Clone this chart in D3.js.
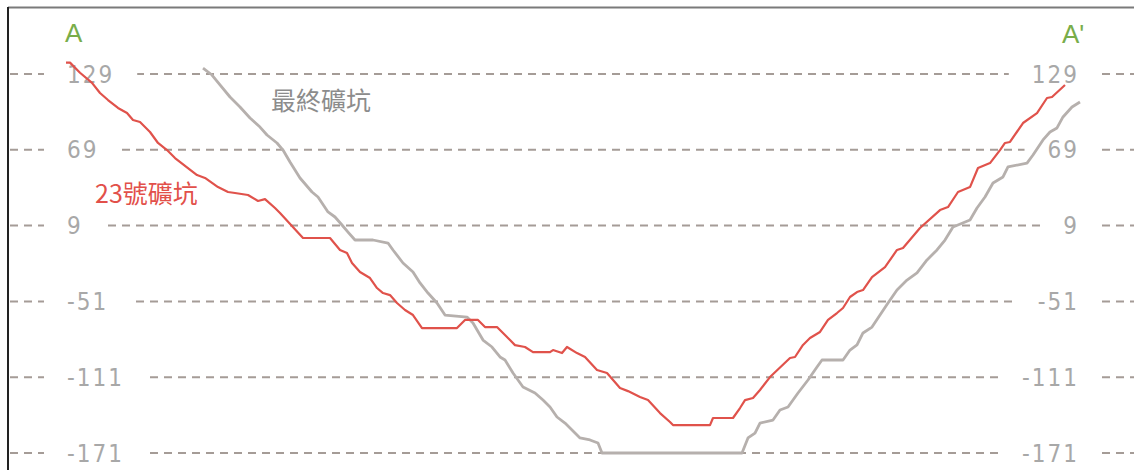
<!DOCTYPE html>
<html><head><meta charset="utf-8">
<script src="https://cdn.jsdelivr.net/npm/d3@7"></script>
<style>html,body{margin:0;padding:0;background:#fff;}svg{display:block;}</style>
</head><body>
<svg id="chart" width="1134" height="470"></svg>
<script>
// Elevation ticks
const tickValues = [129, 69, 9, -51, -111, -171];
// Distance along section A–A' (arbitrary units)
const redDist = [0,2,7,13,17,21,26,30.5,33.5,37,42,46,50.5,54.5,65.5,69.5,76,81,84.5,91,96,99.5,104.5,107,118.5,132,137,140.5,143,147,152,155.5,158.5,162,165.5,169.5,173.5,178,195.5,199.5,206,209.5,215.5,222,224.5,229.5,233.5,242,243.5,248,250.5,255.5,259.5,265.5,270.5,277,281,287,291,297,302,303.5,322,323.5,333.5,337,339.5,343.5,347,352,362,364.5,368.5,372,377,381,385.5,388.5,392,395.5,398.5,403,409.5,415.5,418.5,427,437,441,446,452,456,462,467,469.5,472,478.5,485.5,490.5,493,499.5];
const redElev = [138,138,130,122,114,108.4,102.1,98.1,92.6,91,83.1,74.4,68.8,62.5,49,46.7,39.5,35.6,34.8,33.2,28.5,30,22.9,19,-0.8,-0.8,-10.3,-12.7,-20.6,-27.7,-32.5,-40.4,-44.4,-46,-52.3,-57.8,-61.8,-72.1,-72.1,-65.7,-65.7,-71.3,-71.3,-81.6,-85.6,-87.1,-91.1,-91.1,-89.5,-91.9,-87.1,-91.9,-95,-105.3,-107.7,-119.6,-122,-126.7,-129.1,-139.4,-146.5,-148.9,-148.9,-143.3,-143.3,-135.4,-129.1,-127.5,-121.1,-110.9,-95.8,-95,-85.5,-80,-75.2,-65.7,-60.2,-56.2,-47.5,-43.6,-42,-31.7,-23.8,-10.3,-8.7,7.1,21.3,23.7,35.6,39.5,54.6,58.5,68.8,74.4,75.2,90.2,98.1,110,110.8,120.3];
const grayDist = [68.5,73,77,82,87,92,97,100.5,105.5,108.5,112,117,123,126,131,134.5,138,141,144.5,153.5,161,163.5,168.5,173.5,177,181,185.5,189.5,200.5,203.5,208.5,213,217,219.5,223.5,228.5,234.5,238.5,242,245.5,249.5,253,257,262,266,268,338,341,344.5,347,353.5,357,361,366,371,375.5,378,388.5,392,395.5,398.5,403,407,411,415.5,420.5,425.5,430.5,435.5,439.5,443.5,452,455.5,459.5,463.5,468.5,471,480.5,483.5,488.5,492,495.5,498.5,503,507];
const grayElev = [133.7,128.2,120.3,110.8,102.9,94.2,87,80.7,74.4,68.8,59.3,46.7,35.6,31.6,19.8,15.8,9.5,3.9,-2.4,-2.4,-4.8,-10.3,-20.6,-27.7,-36.4,-44.4,-52.3,-61.8,-63.4,-68.1,-81.6,-87.1,-95,-97.4,-107.7,-118.8,-123.5,-129.1,-134.6,-142.5,-147.3,-152.8,-159.1,-160.7,-163.1,-171,-171,-159.1,-155.2,-147.3,-144.9,-137,-134.6,-123.5,-113.2,-102.9,-97.4,-97.4,-89.5,-85.5,-76,-71.3,-61.8,-52.3,-42,-34.1,-28.5,-18.2,-10.3,-2.4,7.9,13.4,22.9,31.6,42.7,47.5,55.4,58.5,64.9,76.8,83.1,86.3,95,102.9,106.8];
const seriesNames = ["23號礦坑", "最終礦坑"];
const endLabels = ["A", "A'"];

const svg = d3.select("#chart");
const W = 1134, H = 470;
const x = d3.scaleLinear().domain([0, 500]).range([66, 1066]);
const y = d3.scaleLinear().domain([-171, 129]).range([453, 74]);

// frame
svg.append("line").attr("x1", 8).attr("x2", W).attr("y1", 7.5).attr("y2", 7.5)
  .attr("stroke", "#7a7a7a").attr("stroke-width", 2);
svg.append("line").attr("x1", 8).attr("x2", 8).attr("y1", 7).attr("y2", H)
  .attr("stroke", "#222").attr("stroke-width", 2);

// grid lines
const grid = svg.append("g");
grid.selectAll("line").data(tickValues).join("line")
  .attr("x1", 10).attr("x2", W)
  .attr("y1", d => y(d)).attr("y2", d => y(d))
  .attr("stroke", "#a59c97").attr("stroke-width", 2)
  .attr("stroke-dasharray", "8,6");

// tick labels with white masks
const labelFont = "'DejaVu Sans Condensed', 'DejaVu Sans', sans-serif";
function addLabels(anchor, xpos) {
  const g = svg.append("g");
  tickValues.forEach(v => {
    const t = g.append("text").attr("x", xpos).attr("y", y(v)).attr("dy", "0.36em")
      .attr("text-anchor", anchor).attr("font-family", labelFont)
      .attr("font-size", 24).attr("letter-spacing", 2).attr("fill", "#a8a8a8").text(v);
    const b = t.node().getBBox();
    g.insert("rect", "text").attr("x", b.x - 23).attr("y", y(v) - 6)
      .attr("width", b.width + 46).attr("height", 12).attr("fill", "#fff");
  });
}
addLabels("start", 67);
addLabels("end", 1079);

// lines
const line = d3.line().x(d => x(d[0])).y(d => y(d[1]));
svg.append("path").datum(d3.zip(grayDist, grayElev))
  .attr("d", line).attr("fill", "none").attr("stroke", "#b6b0ad")
  .attr("stroke-width", 2.8).attr("stroke-linejoin", "round");
svg.append("path").datum(d3.zip(redDist, redElev))
  .attr("d", line).attr("fill", "none").attr("stroke", "#e0524b")
  .attr("stroke-width", 2.2).attr("stroke-linejoin", "round");

// series labels
const cjk = "'Noto Sans CJK TC', 'Noto Sans CJK SC', sans-serif";
svg.append("text").attr("x", 95).attr("y", 203).attr("font-family", cjk)
  .attr("font-size", 25).attr("fill", "#e2504a").text(seriesNames[0]);
svg.append("text").attr("x", 271).attr("y", 110).attr("font-family", cjk)
  .attr("font-size", 25).attr("fill", "#8c8c8c").text(seriesNames[1]);

// A / A'
const latin = "'Liberation Sans', Arial, sans-serif";
svg.append("text").attr("x", 65).attr("y", 42).attr("font-family", latin)
  .attr("font-size", 26).attr("fill", "#79ad4a").text(endLabels[0]);
svg.append("text").attr("x", 1062).attr("y", 43).attr("font-family", latin)
  .attr("font-size", 26).attr("fill", "#79ad4a").text(endLabels[1]);
</script>
</body></html>
